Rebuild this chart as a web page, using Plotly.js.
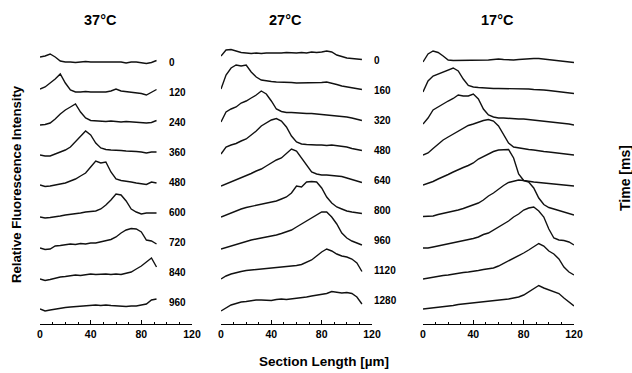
<!DOCTYPE html>
<html>
<head>
<meta charset="utf-8">
<script src="https://cdn.plot.ly/plotly-3.0.1.min.js"></script>
<style>html,body{margin:0;padding:0;background:#fff;}#chart{width:632px;height:373px;}</style>
</head>
<body>
<div id="chart"></div>
<script>
// Section length grids (µm)
const x37 = [0,4,8,12,16,20,24,28,32,36,40,44,48,52,56,60,64,68,72,76,80,84,88,92];
const x27 = [0,4,8,12,16,20,24,28,32,36,40,44,48,52,56,60,64,68,72,76,80,84,88,92,96,100,104,108,112];
const x17 = [0,4,8,12,16,20,24,28,32,36,40,44,48,52,56,60,64,68,72,76,80,84,88,92,96,100,104,108,112,116,120];

// Time labels (ms)
const times37 = [0,120,240,360,480,600,720,840,960];
const times27 = [0,160,320,480,640,800,960,1120,1280];
const times17 = [0,240,480,720,960,1200,1440,1680,1920];

// Relative fluorescence intensity, 37°C
const f37_0 = [5,6,8,5,1,0,0,-0.5,0,0.5,0,0,0.5,0,0.5,0,0,-1,0,0,-1,-1.5,-0.5,1.5];
const f37_1 = [3,5,9,13,18,9,2,0,0,0.5,0,0,0.5,0,1,3,1,0.5,0,-0.5,-1.5,-3,0,2.5];
const f37_2 = [-3,-2.5,-1,3,8,12,15,18,10,4,1.5,1,1,0.5,1,0.5,0,0.5,0,-0.5,-1,-1,-0.5,1.5];
const f37_3 = [-3,-4,-4,-2,0,2,5,10,15,21,17,9,4,2.5,2,2,1.5,1,1,0.5,0,-1,0,0];
const f37_4 = [-3,-4.5,-4,-3,-2,-1,1,3,6,9,15,21,19,20,10,3,1.5,1,0,-1,-1.5,-2.5,0,-1];
const f37_5 = [-5,-6,-5.5,-5,-4,-3,-2.5,-2,-1,0,0.5,1,3,7,12,18,17,11,3,0,-2,-1,-1,-1];
const f37_6 = [-6,-7.5,-7,-4,-3.5,-3,-2,-2.5,-1.5,-2,-1,-1,0,1,2.5,5,9,12,13.5,13,10,2,1,-2];
const f37_7 = [-7,-8.5,-7.5,-6,-5,-4.5,-4,-3,-3.5,-2.5,-2,-2.5,-2,-2,-2.5,-2,-2.5,-1.5,0,3,6,10,14,5];
const f37_8 = [-7,-9,-8,-7,-6,-5.5,-5,-4.5,-4,-3.5,-3,-3,-3.5,-3,-3.5,-4,-4.5,-4.5,-4,-4,-3,-2,2,3];

// 27°C
const f27_0 = [4,10,10.5,9,7.5,7,6.5,7,6.5,7,7,6.5,7,7.5,7,7,7.5,7,8,7.5,8,9,8,5,3.5,2,1.5,1,0.5];
const f27_1 = [1,15,22,25,24,25,18,13,10,9,8.5,8,8,7.5,7.5,7,7,7.5,7,7.5,7.5,8,7,5.5,4,3,2,1.5,0.5];
const f27_2 = [-2,8,11,13,17,19,22,25,29,26,19,11,8.5,7.5,7.5,7,7,6.5,6.5,6,6,5.5,5,4,3.5,3,2,0.5,-0.5];
const f27_3 = [-4,3,5,6.5,9,11,15,19,24,27,30,31.5,29,23,14,8,6,5.5,5,5,5,4.5,5,4.5,3.5,3,1.5,0.5,-0.5];
const f27_4 = [-6,-4,-1.5,0.5,2.5,4.5,6.5,9,11,14,17,20,22,27,31,29,22,15,8,6,5,5,4.5,4,3.5,2,0.5,-1.5,-2.5];
const f27_5 = [-7,-5,-2.5,-0.5,1,2.5,3.5,5,6,7,8,9,11,13,17,24,23,28,28.5,28,22,13,7,3,1,-1,-2,-2.5,-3.5];
const f27_6 = [-9,-7.5,-5.5,-4,-2.5,-1,0,1,2,2.5,3.5,5,6.5,8,10,13,16,19,22.5,25,28,28,23,16,7,2,-1,-3,-5];
const f27_7 = [-9,-6,-4,-2.5,-1.5,-0.5,0,0.5,1,1.5,2,2.5,2.5,3,3.5,4.5,5.5,7.5,10,14,18,21,19,16,14,13,11,7,-1.5];
const f27_8 = [-11,-8,-5,-3.5,-2,-1.5,-0.5,0,0,0,-0.5,0.5,1,0.5,1,2,2.5,3,4,5,6,6.5,8.5,7.5,7,7.5,6.5,3,-4];

// 17°C
const f17_0 = [0,8,11,9.5,6,2,1.5,1.5,1.5,1.5,2,2,2,2,2.5,3,2.5,2,2,2.5,3,3,3.5,3.5,3,2,1.5,1,0.5,0,-0.5];
const f17_1 = [0,11,16,18,20,22,24,21,13,6.5,5,4.5,4,4,3.5,3.5,3.5,3.5,3.5,3,3,3,2.5,2.5,2,1.5,1,0.5,0,-0.5,-1.5];
const f17_2 = [-2,4,12,15,18.5,21,23.5,27,26,26,28,23,13,7,5,4,4,3.5,3.5,3,3,2.5,2,1.5,1,0.5,0,-1,-1.5,-2,-3];
const f17_3 = [-3,-1,3.5,8,12,15,18,21,24,26.5,28,30,31.5,32.5,31,26,18,9,5,4,3,2.5,2,1,0.5,0,-0.5,-1,-1.5,-2,-3];
const f17_4 = [-3,-1.5,0.5,3,5,7.5,10,12.5,14.5,16.5,19,23,25.5,28,30.5,32,32.5,32.5,24,8,1.5,0.5,0,-0.5,-1,-1.5,-2,-2.5,-3,-3.5,-4];
const f17_5 = [-4.5,-4.5,-4,-2.5,-1.5,-0.5,0.5,2,3.5,5.5,7.5,9,12,16,19,23,26.5,29.5,30.5,32,31.5,30,24,14,7.5,4.5,3,1.5,0,-1.5,-3];
const f17_6 = [-6,-6,-5,-4,-3,-2,-1,0,1,2,3.5,5,7.5,9,12,15,17.5,21,25,28,32,34,35,31,25,13,4,2,1.5,0,-3];
const f17_7 = [-7,-6,-5,-4.5,-3.5,-3,-2,-1,-0.5,0,0.5,1.5,2.5,3,4,6,8.5,11,13.5,16,19,22,25.5,28.5,26,21,18,13,5,0,-3];
const f17_8 = [-7,-6.5,-6,-5,-4.5,-4,-3.5,-2.5,-2,-1.5,-1,-0.5,0,0.5,1,1.5,2,3,4,5,7,10,13,16.5,14,12,10,8.5,4,0,-4];

const titles = ['37°C','27°C','17°C'];

// ---- layout helpers (positions, not data) ----
const W = 632, H = 373, PH = 324;   // plot area height (px), bottom margin 49
const SPACING = 30;                  // vertical offset between stacked traces
const FONT = 'Liberation Sans, Arial, Helvetica, sans-serif';

const panels = [
  {xs: x37, rows: [f37_0,f37_1,f37_2,f37_3,f37_4,f37_5,f37_6,f37_7,f37_8], times: times37,
   xa: 'x', ax: 'xaxis', dom: [40/W, 192/W], base: 62, labelX: 100, titleX: 100},
  {xs: x27, rows: [f27_0,f27_1,f27_2,f27_3,f27_4,f27_5,f27_6,f27_7,f27_8], times: times27,
   xa: 'x2', ax: 'xaxis2', dom: [221/W, 372/W], base: 60, labelX: 120, titleX: 285},
  {xs: x17, rows: [f17_0,f17_1,f17_2,f17_3,f17_4,f17_5,f17_6,f17_7,f17_8], times: times17,
   xa: 'x3', ax: 'xaxis3', dom: [423/W, 574/W], base: 62, labelX: 129, titleX: 497}
];

const traces = [];
const annotations = [];
const layout = {
  width: W, height: H,
  margin: {l: 0, r: 0, t: 0, b: H - PH, pad: 0},
  paper_bgcolor: '#fff', plot_bgcolor: 'rgba(0,0,0,0)',
  showlegend: false, hovermode: false,
  font: {family: FONT, color: '#000'},
  yaxis: {range: [0, PH], visible: false, fixedrange: true, domain: [0, 1]},
  annotations: annotations
};

panels.forEach((p, k) => {
  p.rows.forEach((row, i) => {
    const off = PH - (p.base + SPACING * i);
    traces.push({
      type: 'scatter', mode: 'lines', xaxis: p.xa, yaxis: 'y',
      x: p.xs, y: row.map(v => v + off),
      line: {color: '#111', width: 1.4}, cliponaxis: false
    });
    annotations.push({
      xref: p.xa, yref: 'y', x: p.labelX, y: off, xanchor: 'left', yanchor: 'middle',
      text: String(p.times[i]), showarrow: false,
      font: {family: FONT, size: 10, color: '#000', weight: 'bold'}
    });
  });
  layout[p.ax] = {
    domain: p.dom, range: [0, 120], anchor: 'y', fixedrange: true,
    showline: true, linecolor: '#000', linewidth: 1.3, zeroline: false, showgrid: false,
    ticks: 'inside', ticklen: 4, tickwidth: 1.3, tickcolor: '#000',
    tickvals: [0, 40, 80, 120], ticktext: ['0', '40', '80', '120'],
    tickfont: {family: FONT, size: 10.5, color: '#000', weight: 'bold'},
    minor: {dtick: 10, ticks: 'inside', ticklen: 2.5, tickwidth: 1, tickcolor: '#000', showgrid: false}
  };
  annotations.push({
    xref: 'paper', yref: 'paper', x: p.titleX / W, y: (PH - 20) / PH,
    xanchor: 'center', yanchor: 'middle', text: titles[k], showarrow: false,
    font: {family: FONT, size: 14.5, color: '#000', weight: 'bold'}
  });
});

annotations.push({
  xref: 'paper', yref: 'paper', x: 324 / W, y: (PH - 361) / PH,
  xanchor: 'center', yanchor: 'middle', text: 'Section Length [µm]', showarrow: false,
  font: {family: FONT, size: 13.5, color: '#000', weight: 'bold'}
});
annotations.push({
  xref: 'paper', yref: 'paper', x: 16 / W, y: (PH - 184) / PH,
  xanchor: 'center', yanchor: 'middle', textangle: -90, text: 'Relative Fluorescence Intensity',
  showarrow: false, font: {family: FONT, size: 13.2, color: '#000', weight: 'bold'}
});
annotations.push({
  xref: 'paper', yref: 'paper', x: 625 / W, y: (PH - 178) / PH,
  xanchor: 'center', yanchor: 'middle', textangle: -90, text: 'Time [ms]',
  showarrow: false, font: {family: FONT, size: 14, color: '#000', weight: 'bold'}
});

Plotly.newPlot('chart', traces, layout, {staticPlot: true, displayModeBar: false});
</script>
</body>
</html>
